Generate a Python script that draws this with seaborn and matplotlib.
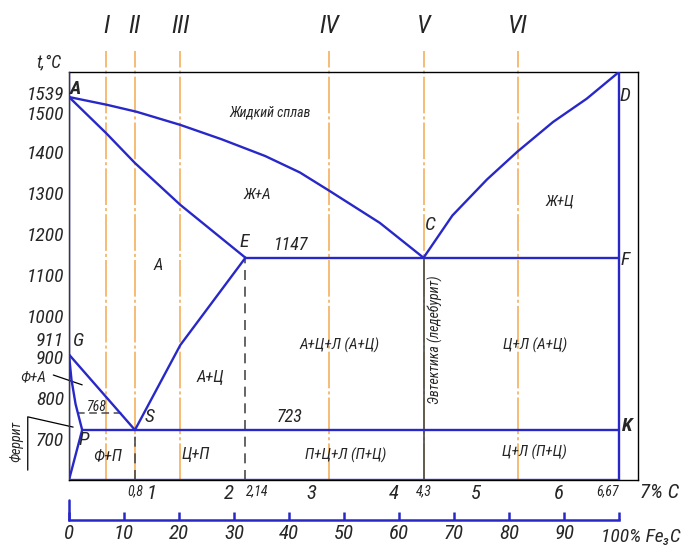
import numpy as np
import pandas as pd
import matplotlib
import matplotlib.pyplot as plt
import matplotlib.transforms as mtrans
from matplotlib import font_manager
import seaborn as sns

sns.set_style("white")
installed = {f.name for f in font_manager.fontManager.ttflist}
narrow = [f for f in ['Liberation Sans Narrow', 'Roboto Condensed', 'DejaVu Sans Condensed',
                      'Roboto', 'Liberation Sans'] if f in installed]
plt.rcParams['font.family'] = narrow + ['DejaVu Sans']
plt.rcParams['font.style'] = 'italic'
plt.rcParams['font.stretch'] = 'condensed'

blue = '#2828c8'
orange = '#f2aa50'
gray = '#4a4a4a'

# phase boundaries (% C, t in C)
liquidus_AC_c = [0, 0.46, 0.82, 1.35, 1.85, 2.38, 2.8, 3.16, 3.77, 4.3]
liquidus_AC_t = [1539, 1520, 1503, 1471, 1436, 1395, 1355, 1310, 1232, 1147]
liquidus_CD_c = [4.3, 4.65, 5.07, 5.44, 5.87, 6.28, 6.67]
liquidus_CD_t = [1147, 1250, 1338, 1406, 1478, 1535, 1600]
solidus_AE_c = [0, 0.45, 0.8, 1.35, 2.14]
solidus_AE_t = [1539, 1451, 1378, 1276, 1147]
line_ES_c = [0.8, 1.35, 2.14]
line_ES_t = [727, 934, 1147]
line_GS_c = [0, 0.8]
line_GS_t = [911, 727]
line_GP_c = [0, 0.03, 0.08, 0.16]
line_GP_t = [911, 850, 790, 727]
line_PQ_c = [0.16, 0]
line_PQ_t = [727, 605]
eutectic_c = [2.14, 6.67]
eutectic_t = [1147, 1147]
eutectoid_c = [0.16, 6.67]
eutectoid_t = [727, 727]
line_DK_c = [6.67, 6.67]
line_DK_t = [1600, 605]

alloys = ['I', 'II', 'III', 'IV', 'V', 'VI']
alloy_c = [0.45, 0.8, 1.35, 3.15, 4.3, 5.44]

t_ticks = [1539, 1500, 1400, 1300, 1200, 1100, 1000, 911, 900, 800, 700]
c_ticks = [0.8, 1, 2, 2.14, 3, 4, 4.3, 5, 6, 6.67]
c_labels = ['0,8', '1', '2', '2,14', '3', '4', '4,3', '5', '6', '6,67']
fe3c_ticks = [0, 10, 20, 30, 40, 50, 60, 70, 80, 90, 100]

fig = plt.figure(figsize=(6.83, 5.45), dpi=100)
ax = fig.add_axes([0.101, 0.1193, 0.833, 0.7486])
ax.set_xlim(0, 6.9)
ax.set_ylim(605, 1600)

for s in ax.spines.values():
    s.set_color('black')
    s.set_linewidth(1.0)

# alloy verticals
for name, c in zip(alloys, alloy_c):
    ax.plot([c, c], [605, 1650], color=orange, lw=1.1, ls=(0, (24, 2, 2, 2)), clip_on=False, zorder=1)
    ax.text(c, 1713, name, ha='center', va='center', fontsize=18, clip_on=False)

# dashed gray verticals
ax.plot([2.14, 2.14], [605, 1147], color=gray, lw=1.2, ls=(0, (6, 4)), zorder=2)
ax.plot([0.8, 0.8], [605, 727], color=gray, lw=1.2, ls=(0, (6, 4)), zorder=2)
ax.plot([4.3, 4.3], [605, 1147], color=gray, lw=1.2, zorder=2)

# 768 dashed line
ax.plot([0.1, 0.68], [768, 768], color=gray, lw=1.1, ls=(0, (5, 3)), zorder=2)

lines = [
    (liquidus_AC_c, liquidus_AC_t), (liquidus_CD_c, liquidus_CD_t),
    (solidus_AE_c, solidus_AE_t), (line_ES_c, line_ES_t),
    (line_GS_c, line_GS_t), (line_GP_c, line_GP_t), (line_PQ_c, line_PQ_t),
    (eutectic_c, eutectic_t), (eutectoid_c, eutectoid_t), (line_DK_c, line_DK_t),
    ([0, 0], [605, 1600]), ([0, 6.67], [605, 605]),
]
for xs, ys in lines:
    sns.lineplot(x=xs, y=ys, ax=ax, color=blue, lw=1.7, sort=False, estimator=None, zorder=3)

# point letters
pts = [('A', 0.08, 1558), ('D', 6.74, 1541), ('C', 4.38, 1226), ('E', 2.12, 1185),
       ('F', 6.75, 1141), ('G', 0.11, 944), ('S', 0.97, 758), ('P', 0.18, 702), ('K', 6.77, 737)]
for name, c, t in pts:
    ax.text(c, t, name, ha='center', va='center', fontsize=14,
            fontweight='bold' if name in ('A', 'K') else 'normal', clip_on=False)

regions = [
    ('Жидкий сплав', 2.44, 1500, 10), ('Ж+А', 2.29, 1300, 11), ('Ж+Ц', 5.95, 1283, 11),
    ('1147', 2.70, 1178, 13), ('А', 1.08, 1129, 12), ('А+Ц+Л (А+Ц)', 3.28, 934, 11),
    ('Ц+Л (А+Ц)', 5.65, 934, 11), ('А+Ц', 1.71, 854, 12), ('Ф+А', -0.44, 856, 11),
    ('768', 0.33, 783, 10), ('723', 2.68, 759, 13), ('Ф+П', 0.47, 663, 12),
    ('Ц+П', 1.54, 666, 12), ('П+Ц+Л (П+Ц)', 3.35, 666, 11), ('Ц+Л (П+Ц)', 5.65, 673, 11),
]
for name, c, t, fs in regions:
    ax.text(c, t, name, ha='center', va='center', fontsize=fs, clip_on=False)

ax.text(4.35, 948, 'Эвтектика (ледебурит)', rotation=90, ha='left', va='center', fontsize=10)
ax.text(-0.64, 698, 'Феррит', rotation=90, ha='center', va='center', fontsize=10, clip_on=False)
ax.plot([-0.19, 0.16], [861, 837], color='black', lw=0.9, clip_on=False)
ax.plot([-0.5, -0.5, 0.05], [629, 759, 734], color='black', lw=0.9, clip_on=False)
ax.text(-0.25, 1624, 't,°C', ha='center', va='center', fontsize=13, clip_on=False)

# temperature labels
label_shift = {1539: 6, 1500: -4, 911: 32}
for t in t_ticks:
    ax.text(-0.06, t + label_shift.get(t, 0), str(t), ha='right', va='center', fontsize=14, clip_on=False)
ax.set_yticks([])

# carbon labels
ax.set_xticks(c_ticks)
ax.set_xticklabels(c_labels)
ax.tick_params(axis='x', length=0, pad=3)
for lbl, v in zip(ax.get_xticklabels(), c_labels):
    if ',' in v:
        lbl.set_fontsize(10)
        lbl.set_ha('left' if v == '2,14' else ('right' if v == '6,67' else 'center'))
    else:
        lbl.set_fontsize(15)
        lbl.set_ha('center' if v == '1' else 'right')
ax.text(6.92, 574, '7% C', ha='left', va='center', fontsize=15, clip_on=False)

# Fe3C axis
sec = ax.secondary_xaxis('bottom', functions=(lambda c: c * 100 / 6.67, lambda f: f * 6.67 / 100))
sec.spines['bottom'].set_position(('outward', 28.8))
sec.spines['bottom'].set_bounds(0, 100)
sec.spines['bottom'].set_color(blue)
sec.spines['bottom'].set_linewidth(1.8)
sec.set_xticks(fe3c_ticks)
sec.set_xticklabels([str(v) if v < 100 else '' for v in fe3c_ticks])
sec.tick_params(axis='x', direction='in', length=6, width=1.8, color=blue, labelsize=15, pad=3)
trans = mtrans.blended_transform_factory(ax.transData, ax.transAxes)
ax.plot([0, 0], [-0.098, -0.049], color=blue, lw=1.8, transform=trans, clip_on=False)
ax.text(6.45, -0.14, '100% Fe₃C', transform=trans, ha='left', va='center', fontsize=14, clip_on=False)

fig.savefig('out.png', dpi=100)
